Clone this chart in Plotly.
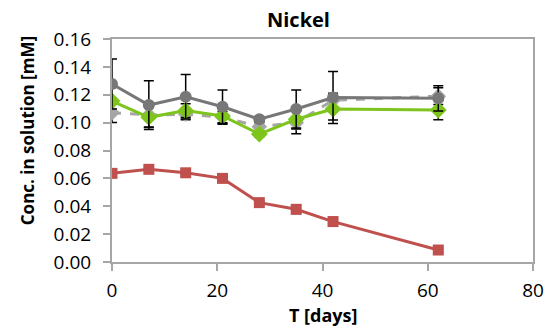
import plotly.graph_objects as go

days = [0, 7, 14, 21, 28, 35, 42, 62]

gray_dark = [0.1277, 0.1126, 0.1186, 0.1114, 0.1024, 0.1098, 0.1180, 0.1174]
gray_dark_err = [0.018, 0.0175, 0.016, 0.012, 0.002, 0.0136, 0.0186, 0.009]

gray_light = [0.1071, 0.1055, 0.1060, 0.1040, 0.0970, 0.1000, 0.1160, 0.1190]
gray_light_err = [0.007, 0.009, 0.004, 0.004, 0.003, 0.008, 0.005, 0.006]

green = [0.1155, 0.1038, 0.1086, 0.1048, 0.0918, 0.1024, 0.1098, 0.1090]
green_err = [0.002, 0.007, 0.005, 0.006, 0.002, 0.007, 0.008, 0.007]

red = [0.0636, 0.0665, 0.0640, 0.0600, 0.0426, 0.0378, 0.0290, 0.0086]
red_err = [0.001, 0.001, 0.001, 0.001, 0.001, 0.003, 0.003, 0.001]

y_ticks = [0.00, 0.02, 0.04, 0.06, 0.08, 0.10, 0.12, 0.14, 0.16]
x_ticks = [0, 20, 40, 60, 80]

FONT = "Open Sans"

def err(vals):
    return dict(type="data", array=vals, visible=True, color="black", thickness=1.5, width=5)

fig = go.Figure()
fig.add_trace(go.Scatter(x=days, y=gray_light, mode="lines+markers",
                         line=dict(color="#a6a6a6", width=3, dash="dash"),
                         marker=dict(symbol="diamond", size=12, color="#a6a6a6"),
                         error_y=err(gray_light_err)))
fig.add_trace(go.Scatter(x=days, y=green, mode="lines+markers",
                         line=dict(color="#7dc41c", width=3),
                         marker=dict(symbol="diamond", size=13, color="#7dc41c"),
                         error_y=err(green_err)))
fig.add_trace(go.Scatter(x=days, y=gray_dark, mode="lines+markers",
                         line=dict(color="#777777", width=3),
                         marker=dict(symbol="circle", size=12, color="#777777"),
                         error_y=err(gray_dark_err)))
fig.add_trace(go.Scatter(x=days, y=red, mode="lines+markers",
                         line=dict(color="#c0504d", width=3),
                         marker=dict(symbol="square", size=11, color="#c0504d"),
                         error_y=err(red_err)))

fig.update_layout(
    width=556, height=329,
    margin=dict(l=112, r=12, t=39, b=67),
    paper_bgcolor="white", plot_bgcolor="white",
    showlegend=False,
    font=dict(family=FONT, color="black", size=19),
    xaxis=dict(range=[0, 80], tickvals=x_ticks, ticktext=[str(v) for v in x_ticks],
               showgrid=False, zeroline=False, showline=True, linecolor="#a6a6a6", linewidth=2,
               mirror=True, ticks="outside", ticklen=7, tickcolor="#a6a6a6", tickwidth=1.5,
               ticklabelstandoff=3,
               tickfont=dict(family=FONT, size=19)),
    yaxis=dict(range=[0, 0.16], tickvals=y_ticks, ticktext=[f"{v:.2f}" for v in y_ticks],
               showgrid=False, zeroline=False, showline=True, linecolor="#a6a6a6", linewidth=2,
               mirror=True, ticks="outside", ticklen=7, tickcolor="#a6a6a6", tickwidth=1.5,
               ticklabelstandoff=8,
               tickfont=dict(family=FONT, size=19)),
    annotations=[
        dict(text="<b>Nickel</b>", xref="paper", yref="paper", x=(303 - 112) / 432, y=1 + (39 - 20) / 223,
             showarrow=False, font=dict(family=FONT, size=20), xanchor="center", yanchor="middle"),
        dict(text="<b>T [days]</b>", xref="paper", yref="paper", x=(329 - 112) / 432, y=-(315 - 262) / 223,
             showarrow=False, font=dict(family=FONT, size=18), xanchor="center", yanchor="middle"),
        dict(text="<b>Conc. in solution [mM]</b>", xref="paper", yref="paper", textangle=-90,
             x=-(112 - 25) / 432, y=(262 - 131) / 223,
             showarrow=False, font=dict(family=FONT, size=17), xanchor="center", yanchor="middle"),
    ],
)

fig.write_html("out.html", config={"displayModeBar": False},
               post_script="document.body.style.margin='0';document.body.style.overflow='hidden';")
